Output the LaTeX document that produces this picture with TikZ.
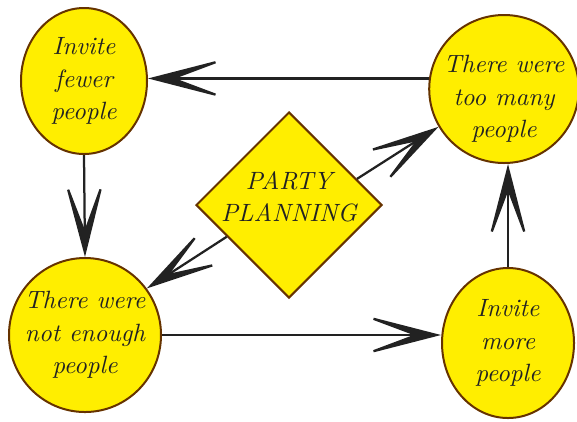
\documentclass[tikz,border=0pt]{standalone}
\usepackage{tikz}
\usetikzlibrary{shapes.geometric}
\usetikzlibrary{arrows.meta}
\usetikzlibrary{positioning}
\definecolor{partyyellow}{RGB}{255,238,0}
\definecolor{brownline}{RGB}{102,51,0}
\definecolor{inkgray}{RGB}{34,34,34}
\tikzstyle{bubble} = [ellipse, draw=brownline, fill=partyyellow, line width=0.8pt,
    inner sep=-3pt, align=center, text=inkgray, font=\fontsize{10}{13}\selectfont\itshape]
\tikzstyle{plan} = [diamond, draw=brownline, fill=partyyellow, line width=0.8pt,
    aspect=1, inner sep=-2pt, align=center, text=inkgray,
    font=\fontsize{10}{12.8}\selectfont\itshape]
\tikzstyle{line} = [draw, color=inkgray, line width=0.9pt,
    -{Stealth[length=35pt, width=18pt, inset=24pt]}]

\begin{document}
\begin{tikzpicture}[x=0.4pt, y=-0.4pt]
    \useasboundingbox (0,0) rectangle (577,421);
    % Place nodes
    \node[bubble, minimum width=50.4pt, minimum height=58.4pt] (fewer) at (84,81) {Invite\\fewer\\people};
    \node[bubble, minimum width=58.4pt, minimum height=59.2pt, text height=41pt] (many) at (504,89) {There were\\too many\\people};
    \node[bubble, minimum width=60.8pt, minimum height=61.6pt] (enough) at (85,335) {There were\\not enough\\people};
    \node[bubble, minimum width=52.8pt, minimum height=60pt] (more) at (508,343) {Invite\\more\\people};
    \node[plan, minimum width=74.4pt, minimum height=74.4pt, text depth=6.5pt] (party) at (289,205) {PARTY\\PLANNING};
    % Draw edges
    \path [line] (many.172) -- (many.172 -| fewer.east);
    \path [line] (fewer.south) -- (enough.north);
    \path [line] (enough.east) -- (enough.east -| more.west);
    \path [line] (more.north) -- (more.north |- many.south);
    \path [line] (party.21) -- (many.210);
    \path [line] (party.207) -- (enough.37);
\end{tikzpicture}
\end{document}
